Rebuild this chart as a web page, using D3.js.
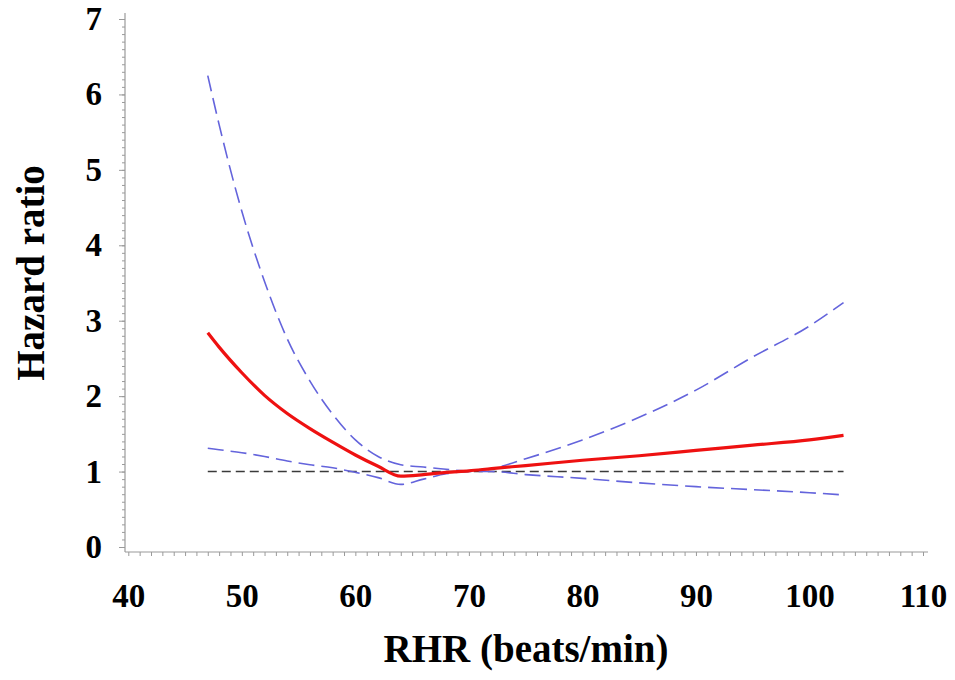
<!DOCTYPE html>
<html lang="en">
<head>
<meta charset="UTF-8">
<title>Hazard ratio vs RHR</title>
<script src="https://d3js.org/d3.v7.min.js"></script>
<style>
    body { margin: 0; background: #fff; }
    svg { display: block; }
    .lbl { font-family: "Liberation Serif", "Times New Roman", serif; font-weight: bold; fill: #000; }
</style>
</head>
<body>
<svg id="chart" width="955" height="680"></svg>
<script>
// values
const rhr   = [47, 48, 50, 52, 54, 56, 58, 60, 62, 64, 66, 68, 70, 72, 75, 80, 85, 90, 95, 100, 103];
const hr    = [2.84, 2.65, 2.31, 2.01, 1.77, 1.57, 1.39, 1.22, 1.07, 0.94, 0.96, 0.99, 1.01, 1.04, 1.08, 1.15, 1.21, 1.28, 1.35, 1.42, 1.48];
const upper = [6.25, 5.60, 4.45, 3.52, 2.76, 2.20, 1.76, 1.42, 1.20, 1.09, 1.06, 1.03, 1.01, 1.04, 1.17, 1.42, 1.72, 2.08, 2.52, 2.93, 3.24];
const lower = [1.31, 1.29, 1.25, 1.20, 1.14, 1.09, 1.05, 0.99, 0.92, 0.83, 0.90, 0.97, 1.00, 1.00, 0.96, 0.91, 0.85, 0.80, 0.76, 0.72, 0.69];
const refLine = [1, 1];
const refX = [47, 103];

const xMajor = [40, 50, 60, 70, 80, 90, 100, 110];
const yMajor = [0, 1, 2, 3, 4, 5, 6, 7];

const svg = d3.select('#chart');

const x = d3.scaleLinear().domain([40, 110]).range([128.3, 923]);
const y = d3.scaleLinear().domain([0, 7]).range([547, 19]);

const axisColor = '#9a9a9a';

// axis lines
svg.append('line')
    .attr('x1', 125).attr('x2', 125).attr('y1', 13).attr('y2', 552)
    .attr('stroke', axisColor).attr('stroke-width', 1.2);
svg.append('line')
    .attr('x1', 125).attr('x2', 928).attr('y1', 552).attr('y2', 552)
    .attr('stroke', axisColor).attr('stroke-width', 1.2);

// x minor ticks (every 1 bpm)
const gxMinor = svg.append('g')
    .attr('transform', 'translate(0,552)')
    .call(d3.axisBottom(x).tickValues(d3.range(40, 111, 1)).tickSize(4).tickFormat(''));
gxMinor.select('.domain').remove();
gxMinor.selectAll('line').attr('stroke', axisColor);

// x labels
const gxLab = svg.append('g')
    .attr('transform', 'translate(0,552)')
    .call(d3.axisBottom(x).tickValues(xMajor).tickSize(0).tickPadding(32).tickFormat(d3.format('d')));
gxLab.select('.domain').remove();
gxLab.selectAll('text').attr('class', 'lbl').style('font-size', '33px');

// y minor ticks (every 0.1)
const gyMinor = svg.append('g')
    .attr('transform', 'translate(125,0)')
    .call(d3.axisLeft(y).tickValues(d3.range(0, 70.5, 1).map(d => d / 10)).tickSize(3).tickFormat(''));
gyMinor.select('.domain').remove();
gyMinor.selectAll('line').attr('stroke', axisColor);

// y major ticks + labels
const gyLab = svg.append('g')
    .attr('transform', 'translate(125,0)')
    .call(d3.axisLeft(y).tickValues(yMajor).tickSize(6).tickPadding(17).tickFormat(d3.format('d')));
gyLab.select('.domain').remove();
gyLab.selectAll('line').attr('stroke', axisColor);
gyLab.selectAll('text').attr('class', 'lbl').style('font-size', '33px');

// axis titles
svg.append('text')
    .attr('class', 'lbl')
    .attr('x', 526).attr('y', 662)
    .attr('text-anchor', 'middle')
    .style('font-size', '39px')
    .text('RHR (beats/min)');

svg.append('text')
    .attr('class', 'lbl')
    .attr('transform', 'translate(44,273) rotate(-90)')
    .attr('text-anchor', 'middle')
    .style('font-size', '39px')
    .text('Hazard ratio');

// curves
const line = d3.line()
    .x(d => x(d[0]))
    .y(d => y(d[1]))
    .curve(d3.curveMonotoneX);

svg.append('path')
    .datum(d3.zip(refX, refLine))
    .attr('d', line)
    .attr('fill', 'none')
    .attr('stroke', '#3a3a3a')
    .attr('stroke-width', 1.6)
    .attr('stroke-dasharray', '9,5');

[upper, lower].forEach(series => {
    svg.append('path')
        .datum(d3.zip(rhr, series))
        .attr('d', line)
        .attr('fill', 'none')
        .attr('stroke', '#6464dc')
        .attr('stroke-width', 1.6)
        .attr('stroke-dasharray', '16,7');
});

svg.append('path')
    .datum(d3.zip(rhr, hr))
    .attr('d', line)
    .attr('fill', 'none')
    .attr('stroke', '#ee1111')
    .attr('stroke-width', 3.2);
</script>
</body>
</html>
